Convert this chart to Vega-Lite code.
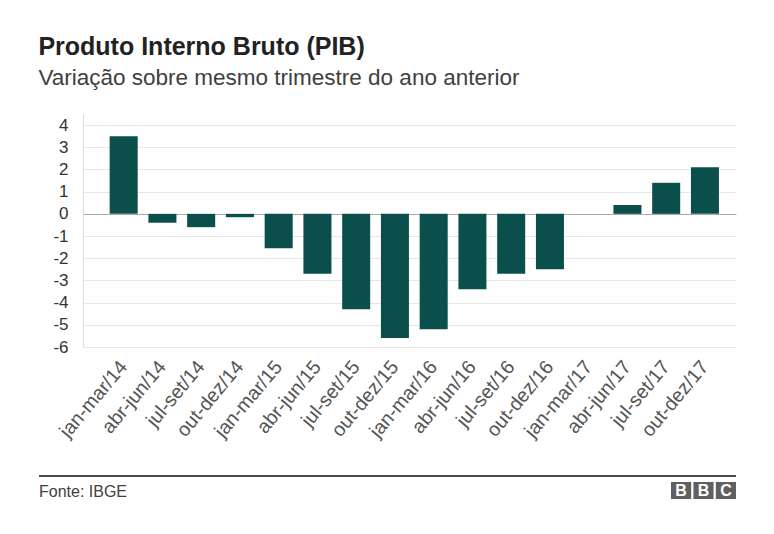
{
  "$schema": "https://vega.github.io/schema/vega-lite/v6.json",
  "background": "white",
  "padding": {"left": 38, "top": 34, "right": 39, "bottom": 0},
  "config": {"font": "Liberation Sans", "view": {"stroke": null}},
  "title": {
    "text": "Produto Interno Bruto (PIB)",
    "subtitle": "Variação sobre mesmo trimestre do ano anterior",
    "anchor": "start",
    "fontSize": 25,
    "fontWeight": "bold",
    "color": "#222222",
    "subtitleFontSize": 22.5,
    "subtitleColor": "#404040",
    "subtitlePadding": 7,
    "offset": 25
  },
  "spacing": 34,
  "vconcat": [
    {
      "width": 697,
      "height": 233,
      "data": {
        "values": [
          {"trimestre": "jan-mar/14", "variacao": 3.5},
          {"trimestre": "abr-jun/14", "variacao": -0.4},
          {"trimestre": "jul-set/14", "variacao": -0.6},
          {"trimestre": "out-dez/14", "variacao": -0.15},
          {"trimestre": "jan-mar/15", "variacao": -1.55},
          {"trimestre": "abr-jun/15", "variacao": -2.7},
          {"trimestre": "jul-set/15", "variacao": -4.3},
          {"trimestre": "out-dez/15", "variacao": -5.6},
          {"trimestre": "jan-mar/16", "variacao": -5.2},
          {"trimestre": "abr-jun/16", "variacao": -3.4},
          {"trimestre": "jul-set/16", "variacao": -2.7},
          {"trimestre": "out-dez/16", "variacao": -2.5},
          {"trimestre": "jan-mar/17", "variacao": 0},
          {"trimestre": "abr-jun/17", "variacao": 0.4},
          {"trimestre": "jul-set/17", "variacao": 1.4},
          {"trimestre": "out-dez/17", "variacao": 2.1}
        ]
      },
      "mark": {"type": "bar", "color": "#0b4f4c"},
      "encoding": {
        "x": {
          "field": "trimestre",
          "type": "nominal",
          "sort": null,
          "scale": {"range": [44, 697], "paddingInner": 0.277, "paddingOuter": 0.564, "align": 0.61},
          "axis": {
            "title": null,
            "labelAngle": -50,
            "labelFontSize": 19.5,
            "labelColor": "#555555",
            "ticks": false,
            "domain": false,
            "grid": false,
            "labelPadding": 16
          }
        },
        "y": {
          "field": "variacao",
          "type": "quantitative",
          "scale": {"domain": [-6, 4.5], "nice": false},
          "axis": {
            "title": null,
            "offset": -44,
            "values": [-6, -5, -4, -3, -2, -1, 0, 1, 2, 3, 4],
            "labelExpr": "toString(datum.value)",
            "ticks": false,
            "labelPadding": 15,
            "labelFontSize": 17,
            "labelColor": "#333333",
            "domain": true,
            "domainColor": "#dddddd",
            "grid": true,
            "gridColor": {"condition": {"test": "datum.value === 0", "value": "#aaaaaa"}, "value": "#e6e6e6"}
          }
        }
      }
    },
    {
      "width": 697,
      "height": 24,
      "data": {
        "values": [
          {"letra": "B", "pos": "1"},
          {"letra": "B", "pos": "2"},
          {"letra": "C", "pos": "3"}
        ]
      },
      "title": {
        "text": "Fonte: IBGE",
        "orient": "bottom",
        "anchor": "start",
        "frame": "group",
        "fontSize": 16,
        "fontWeight": "normal",
        "color": "#404040",
        "offset": -16
      },
      "layer": [
        {
          "mark": {"type": "rule", "color": "#333333", "strokeWidth": 1.2},
          "encoding": {"y": {"value": 0}}
        },
        {
          "mark": {"type": "rect", "color": "#606060"},
          "encoding": {
            "x": {"field": "pos", "type": "nominal", "scale": {"range": [632, 697], "paddingInner": 0.1, "paddingOuter": 0}, "axis": null},
            "y": {"value": 6},
            "y2": {"value": 23}
          }
        },
        {
          "mark": {"type": "text", "color": "white", "fontSize": 16, "fontWeight": "bold", "baseline": "middle"},
          "encoding": {
            "x": {"field": "pos", "type": "nominal", "scale": {"range": [632, 697], "paddingInner": 0.1, "paddingOuter": 0}, "axis": null},
            "y": {"value": 15},
            "text": {"field": "letra"}
          }
        }
      ]
    }
  ]
}
